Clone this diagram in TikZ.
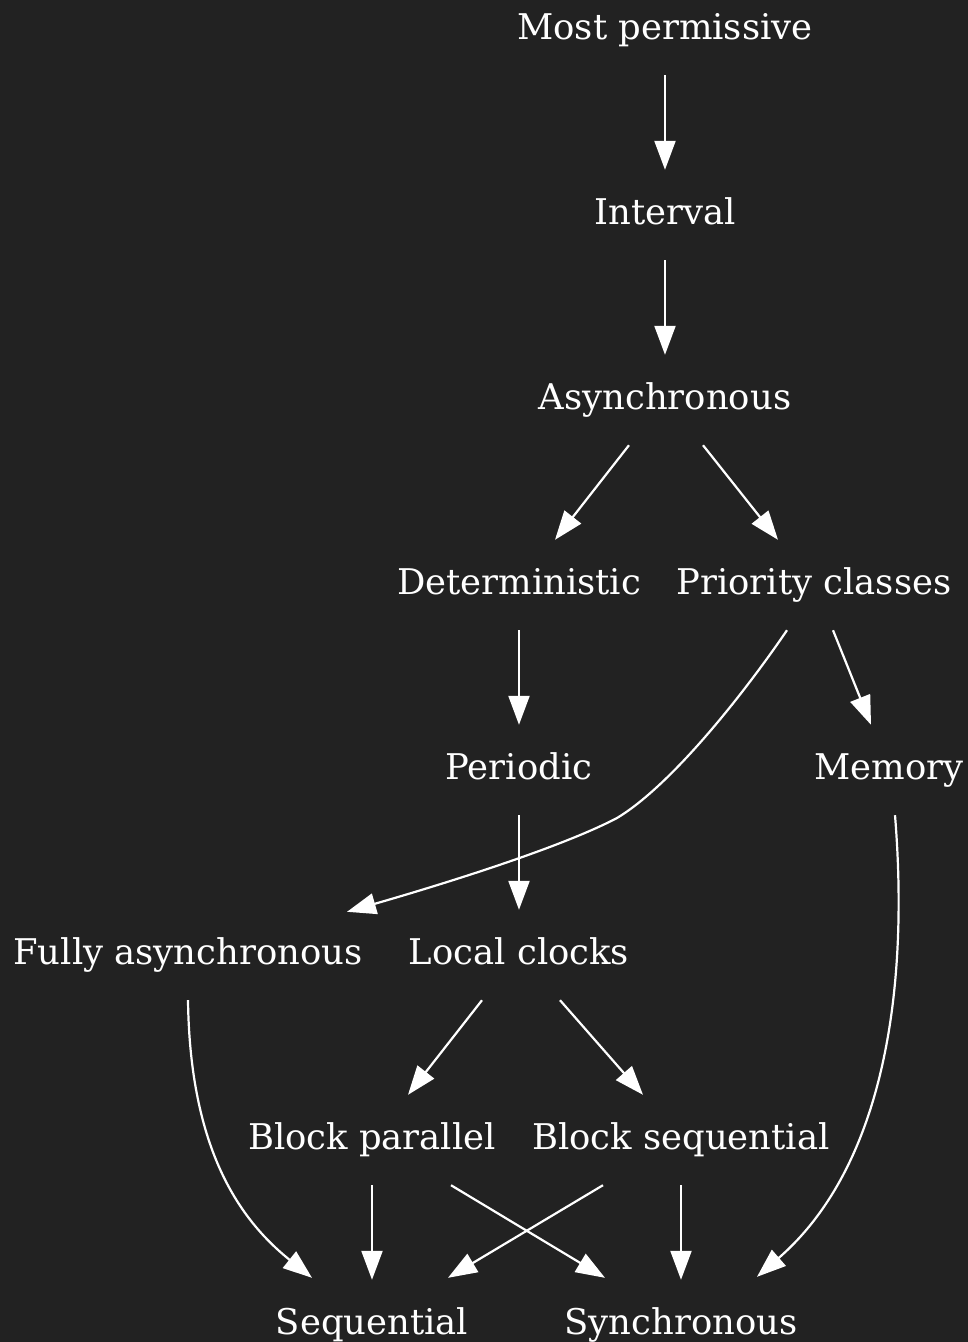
\documentclass[tikz,border=0pt]{standalone}
\usepackage{fontspec}
\setmainfont{DejaVu Serif}
\usetikzlibrary{calc,arrows.meta}
\definecolor{bg}{HTML}{222222}
\begin{document}
\begin{tikzpicture}[x=1pt,y=-1pt,
  lbl/.style={text=white,font=\fontsize{35.4}{40}\selectfont,
    text height=26pt,text depth=7pt,inner ysep=28.5pt,inner xsep=0pt},
  e/.style={draw=white,line width=2.2pt,-{Triangle[length=29pt,width=21pt]}}]
\fill[bg] (0,0) rectangle (968,1342);
\useasboundingbox (0,0) rectangle (968,1342);
% nodes, one row every 185pt
\node[lbl] (mp) at (665,30) {Most permissive};
\node[lbl] (iv) at (665,215) {Interval};
\node[lbl] (as) at (665,400) {Asynchronous};
\node[lbl] (de) at (519,585) {Deterministic};
\node[lbl] (pc) at (814,585) {Priority classes};
\node[lbl] (pe) at (519,770) {Periodic};
\node[lbl] (me) at (889,770) {Memory};
\node[lbl] (fa) at (188,955) {Fully asynchronous};
\node[lbl] (lc) at (519,955) {Local clocks};
\node[lbl] (bp) at (372,1140) {Block parallel};
\node[lbl] (bs) at (681,1140) {Block sequential};
\node[lbl] (sq) at (372,1325) {Sequential};
\node[lbl] (sy) at (681,1325) {Synchronous};
% edges
\draw[e] (mp.south) -- (iv.north);
\draw[e] (iv.south) -- (as.north);
\draw[e] ($(as.south)+(-36,0)$) -- ($(de.north)+(36,0)$);
\draw[e] ($(as.south)+(38,0)$) -- ($(pc.north)+(-36,0)$);
\draw[e] (de.south) -- (pe.north);
\draw[e] ($(pc.south)+(19,0)$) -- ($(me.north)+(-18,0)$);
\draw[e] ($(pc.south)+(-27,0)$) .. controls (745,692) and (672,785) .. (617,818)
  .. controls (560,848) and (440,885) .. ($(fa.north)+(159,2)$);
\draw[e] (pe.south) -- (lc.north);
\draw[e] ($(me.south)+(6,0)$) .. controls (910,1000) and (880,1170) .. ($(sy.north)+(76,-3)$);
\draw[e] (fa.south) .. controls (190,1150) and (240,1220) .. ($(sq.north)+(-60,-2)$);
\draw[e] ($(lc.south)+(-37,0)$) -- ($(bp.north)+(36,0)$);
\draw[e] ($(lc.south)+(41,0)$) -- ($(bs.north)+(-38,0)$);
\draw[e] (bp.south) -- (sq.north);
\draw[e] ($(bp.south)+(79,0)$) -- ($(sy.north)+(-76,-2)$);
\draw[e] ($(bs.south)+(-78,0)$) -- ($(sq.north)+(76,-2)$);
\draw[e] (bs.south) -- (sy.north);
\end{tikzpicture}
\end{document}
